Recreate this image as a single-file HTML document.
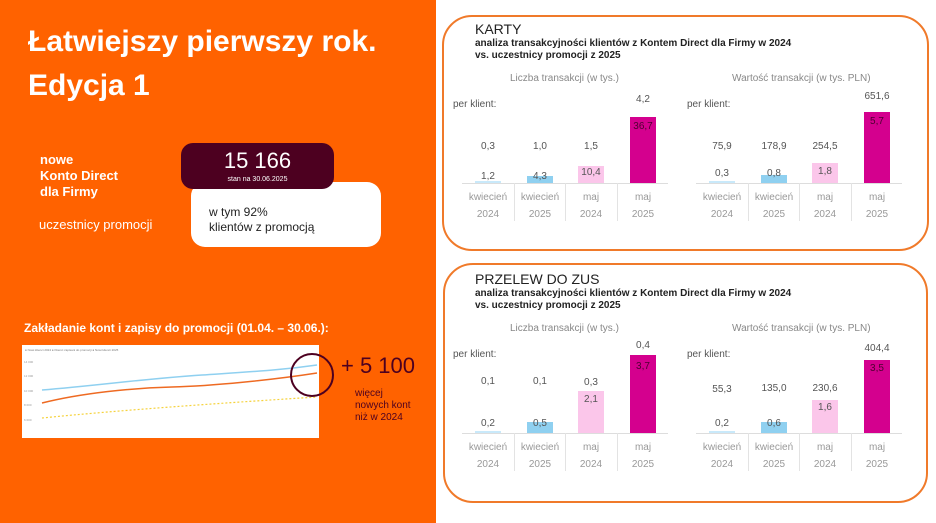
<!DOCTYPE html>
<html><head><meta charset="utf-8"><style>
*{margin:0;padding:0;box-sizing:border-box}
body{width:936px;height:523px;position:relative;overflow:hidden;background:#fff;font-family:"Liberation Sans",sans-serif}
.a{position:absolute;white-space:nowrap}
#left{position:absolute;left:0;top:0;width:436px;height:523px;background:#ff6200}
.box{position:absolute;border:2px solid #f07a2a;border-radius:30px}
.g{color:#888;font-size:10px}
.c{text-align:center}
.v{color:#555;font-size:10px;text-align:center;width:52px;line-height:12px}
</style></head><body>
<div id="left">
<div class="a" style="left:28px;top:20px;color:#fff;font-weight:bold;font-size:30px;line-height:44px">Łatwiejszy pierwszy rok.<br>Edycja 1</div>
<div class="a" style="left:40px;top:152px;color:#fff;font-weight:bold;font-size:13px;line-height:16px">nowe<br>Konto Direct<br>dla Firmy</div>
<div class="a" style="left:39px;top:217px;color:#fff;font-size:13px">uczestnicy promocji</div>
<div class="a" style="left:191px;top:182px;width:190px;height:65px;background:#fff;border-radius:14px"></div>
<div class="a" style="left:181px;top:143px;width:153px;height:46px;background:#4d0020;border-radius:12px"></div>
<div class="a c" style="left:181px;top:148px;width:153px;color:#fff;font-size:22px">15 166</div>
<div class="a c" style="left:181px;top:176px;width:153px;color:#fff;font-size:7px">stan na 30.06.2025</div>
<div class="a" style="left:209px;top:205px;color:#222;font-size:12px;line-height:15px">w tym 92%<br>klientów z promocją</div>
<div class="a" style="left:24px;top:321px;color:#fff;font-weight:bold;font-size:12px">Zakładanie kont i zapisy do promocji (01.04. – 30.06.):</div>
<div class="a" style="left:22px;top:345px;width:297px;height:93px;background:#fff"></div>
<svg class="a" style="left:22px;top:345px" width="297" height="93">
<text x="3" y="6" font-size="3" fill="#777">● Nowi klienci 2024 ● Klienci zapisani do promocji ● Nowi klienci 2025</text>
<path d="M20,45 C80,40 120,34 180,30 S260,25 295,20" stroke="#8fd0f0" stroke-width="1.5" fill="none"/>
<path d="M20,58 C60,48 110,43 150,42 S250,35 295,28" stroke="#ee6a22" stroke-width="1.5" fill="none"/>
<path d="M20,73 C100,65 200,58 295,52" stroke="#f5d23c" stroke-width="1.2" stroke-dasharray="2,2" fill="none"/>
<g font-size="3" fill="#999"><text x="2" y="18">14 000</text><text x="2" y="32">12 000</text><text x="2" y="47">10 000</text><text x="2" y="61">8 000</text><text x="2" y="76">6 000</text></g>
</svg>
<div class="a" style="left:290px;top:353px;width:44px;height:44px;border:2px solid #4d0020;border-radius:50%"></div>
<div class="a" style="left:341px;top:353px;color:#4d0020;font-size:22px">+ 5 100</div>
<div class="a" style="left:355px;top:388px;color:#4d0020;font-size:10px;line-height:12px">więcej<br>nowych kont<br>niż w 2024</div>
</div>

<div class="box" style="left:442px;top:15px;width:487px;height:236px"></div>
<div class="box" style="left:443px;top:263px;width:485px;height:240px"></div>
<div id="charts"></div>
<script>
var out='';
function box(x,y,w,h,c){out+='<div class="a" style="left:'+x+'px;top:'+y+'px;width:'+w+'px;height:'+h+'px;background:'+c+'"></div>';}
function lab(x,cy,t,col){out+='<div class="a v" style="left:'+x+'px;top:'+(cy-6)+'px;color:'+col+'">'+t+'</div>';}
function panel(ty,title,base,L,R){
 out+='<div class="a" style="left:475px;top:'+ty+'px;font-size:14px;color:#222">'+title+'</div>';
 out+='<div class="a" style="left:475px;top:'+(ty+17)+'px;font-size:10px;font-weight:bold;color:#222;line-height:12px">analiza transakcyjności klientów z Kontem Direct dla Firmy w 2024<br>vs. uczestnicy promocji z 2025</div>';
 [[462,L,'Liczba transakcji (w tys.)',510],[696,R,'Wartość transakcji (w tys. PLN)',732]].forEach(function(p){
  var x0=p[0],d=p[1];
  out+='<div class="a g" style="left:'+p[3]+'px;top:'+(base-110)+'px">'+p[2]+'</div>';
  out+='<div class="a" style="left:'+(x0-9)+'px;top:'+(base-84)+'px;font-size:10px;color:#555">per klient:</div>';
  var cols=['#c9e9fa','#8fd0f0','#fbc6ea','#d4008e'],cats=[['kwiecień','2024'],['kwiecień','2025'],['maj','2024'],['maj','2025']];
  box(x0,base,206,1,'#ddd');
  for(var i=0;i<4;i++){
   var cx=Math.round(x0+i*51.5);
   if(i>0)box(cx,base,1,38,'#e3e3e3');
   var r=d[i];
   box(cx+13,r[0],26,base-r[0],cols[i]);
   lab(cx,r[2],r[1],i==3?'#4d0030':'#555');
   lab(cx,r[4],r[3],'#555');
   lab(cx,base+15,cats[i][0],'#999');
   lab(cx,base+32,cats[i][1],'#999');
  }
 });
}
panel(21,'KARTY',183,
 [[181,'1,2',177,'0,3',147],[176,'4,3',177,'1,0',147],[166,'10,4',173,'1,5',147],[117,'36,7',127,'4,2',100]],
 [[181,'0,3',174,'75,9',147],[175,'0,8',174,'178,9',147],[163,'1,8',172,'254,5',147],[112,'5,7',122,'651,6',97]]);
panel(271,'PRZELEW DO ZUS',433,
 [[431,'0,2',424,'0,1',382],[422,'0,5',424,'0,1',382],[391,'2,1',400,'0,3',383],[355,'3,7',367,'0,4',346]],
 [[431,'0,2',424,'55,3',390],[422,'0,6',424,'135,0',389],[400,'1,6',408,'230,6',389],[360,'3,5',369,'404,4',349]]);
document.getElementById('charts').innerHTML=out;
</script>
</body></html>
